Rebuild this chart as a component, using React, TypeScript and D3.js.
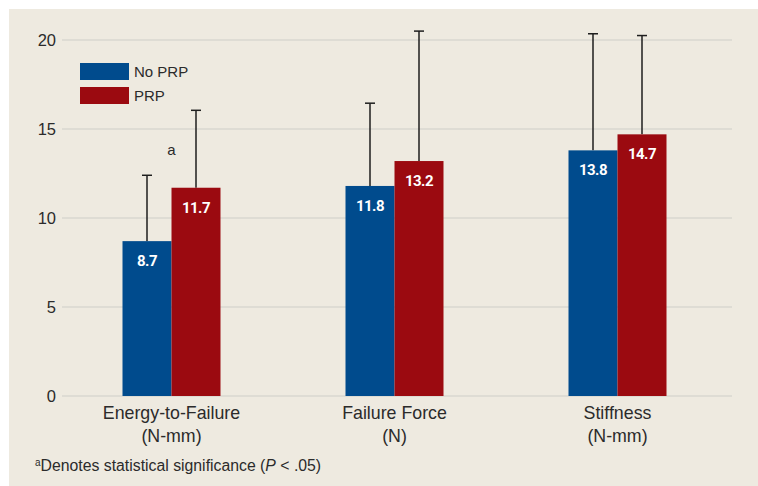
import React, { useEffect, useRef } from 'react';
import * as d3 from 'd3';

const categories = ['Energy-to-Failure', 'Failure Force', 'Stiffness'];
const units = ['(N-mm)', '(N)', '(N-mm)'];
const seriesNames = ['No PRP', 'PRP'];
const noPrp = [8.7, 11.8, 13.8];
const prp = [11.7, 13.2, 14.7];
const noPrpErrTop = [12.4, 16.45, 20.35];
const prpErrTop = [16.05, 20.5, 20.25];
const yTicks = [0, 5, 10, 15, 20];
const colors = ['#004b8d', '#9b0a10'];

const W = 758;
const H = 486;

const App: React.FC = () => {
  const ref = useRef<SVGSVGElement>(null);

  useEffect(() => {
    if (!ref.current) return;
    const svg = d3.select(ref.current);
    svg.selectAll('*').remove();

    const font = '"Liberation Sans", Arial, sans-serif';
    const boldFont = 'Roboto, "Liberation Sans", sans-serif';
    const textColor = '#2b2b2b';

    svg
      .append('rect')
      .attr('x', 9)
      .attr('y', 9)
      .attr('width', W - 9)
      .attr('height', H - 9)
      .attr('fill', '#eeeae0');

    const x = d3.scaleBand().domain(categories).range([60, 729]).paddingInner(0);
    const inner = d3.scaleBand().domain(seriesNames).range([0, 98]);
    const y = d3.scaleLinear().domain([0, 20]).range([396, 40]);

    // gridlines
    svg
      .append('g')
      .selectAll('line')
      .data(yTicks)
      .enter()
      .append('line')
      .attr('x1', 62)
      .attr('x2', 732)
      .attr('y1', d => y(d))
      .attr('y2', d => y(d))
      .attr('stroke', '#d9d7d1')
      .attr('stroke-width', 1.5);

    // y tick labels
    svg
      .append('g')
      .selectAll('text')
      .data(yTicks)
      .enter()
      .append('text')
      .attr('x', 56)
      .attr('y', d => y(d))
      .attr('dy', '0.36em')
      .attr('text-anchor', 'end')
      .attr('font-family', font)
      .attr('font-size', 16.5)
      .attr('fill', textColor)
      .text(d => d);

    const rows = categories.map((c, i) => [
      { cat: c, s: seriesNames[0], v: noPrp[i], top: noPrpErrTop[i] },
      { cat: c, s: seriesNames[1], v: prp[i], top: prpErrTop[i] },
    ]).flat();

    const bx = (d: { cat: string; s: string }) =>
      (x(d.cat) as number) + x.bandwidth() / 2 - 49 + (inner(d.s) as number);
    const cx = (d: { cat: string; s: string }) => bx(d) + inner.bandwidth() / 2;

    // error bars (drawn first so bar covers the lower part)
    const err = svg.append('g').attr('stroke', '#1e1e1e').attr('stroke-width', 1.5);
    err
      .selectAll('line.v')
      .data(rows)
      .enter()
      .append('line')
      .attr('class', 'v')
      .attr('x1', d => cx(d))
      .attr('x2', d => cx(d))
      .attr('y1', d => y(d.v))
      .attr('y2', d => y(d.top));
    err
      .selectAll('line.cap')
      .data(rows)
      .enter()
      .append('line')
      .attr('class', 'cap')
      .attr('x1', d => cx(d) - 5)
      .attr('x2', d => cx(d) + 5)
      .attr('y1', d => y(d.top))
      .attr('y2', d => y(d.top));

    svg
      .append('g')
      .selectAll('rect')
      .data(rows)
      .enter()
      .append('rect')
      .attr('x', d => bx(d))
      .attr('y', d => y(d.v))
      .attr('width', inner.bandwidth())
      .attr('height', d => y(0) - y(d.v))
      .attr('fill', d => colors[seriesNames.indexOf(d.s)]);

    svg
      .append('g')
      .selectAll('text')
      .data(rows)
      .enter()
      .append('text')
      .attr('x', d => cx(d))
      .attr('y', d => y(d.v) + 25)
      .attr('text-anchor', 'middle')
      .attr('font-family', boldFont)
      .attr('font-weight', 700)
      .attr('font-size', 15)
      .attr('letter-spacing', -0.5)
      .attr('fill', '#fff')
      .text(d => d.v.toFixed(1));

    // significance marker
    svg
      .append('text')
      .attr('x', x(categories[0])! + x.bandwidth() / 2)
      .attr('y', 155)
      .attr('text-anchor', 'middle')
      .attr('font-family', font)
      .attr('font-size', 15)
      .attr('fill', textColor)
      .text('a');

    // category labels
    const cat = svg
      .append('g')
      .selectAll('text')
      .data(categories)
      .enter()
      .append('text')
      .attr('text-anchor', 'middle')
      .attr('font-family', font)
      .attr('font-size', 17.8)
      .attr('fill', textColor);
    cat
      .append('tspan')
      .attr('x', d => x(d)! + x.bandwidth() / 2)
      .attr('y', 419)
      .text(d => d);
    cat
      .append('tspan')
      .attr('x', d => x(d)! + x.bandwidth() / 2)
      .attr('y', 442)
      .text((d, i) => units[i]);

    // legend
    const lg = svg
      .append('g')
      .selectAll('g')
      .data(seriesNames)
      .enter()
      .append('g')
      .attr('transform', (d, i) => `translate(80,${63 + i * 24})`);
    lg.append('rect')
      .attr('width', 49)
      .attr('height', 17)
      .attr('fill', (d, i) => colors[i]);
    lg.append('text')
      .attr('x', 54)
      .attr('y', 14)
      .attr('font-family', font)
      .attr('font-size', 15)
      .attr('fill', textColor)
      .text(d => d);

    // footnote
    const fn = svg
      .append('text')
      .attr('x', 35)
      .attr('y', 471)
      .attr('font-family', font)
      .attr('font-size', 15.8)
      .attr('fill', textColor);
    fn.append('tspan').attr('font-size', 10).attr('dy', -5).text('a');
    fn.append('tspan').attr('dy', 5).text('Denotes statistical significance (');
    fn.append('tspan').attr('font-style', 'italic').text('P');
    fn.append('tspan').text(' < .05)');
  }, []);

  return (
    <svg
      ref={ref}
      width={W}
      height={H}
      style={{ position: 'absolute', left: 0, top: 0, display: 'block' }}
    />
  );
};

export default App;
